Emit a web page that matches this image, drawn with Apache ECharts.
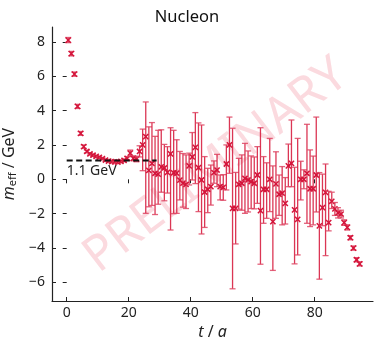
<!DOCTYPE html>
<html><head><meta charset="utf-8">
<script src="https://cdn.jsdelivr.net/npm/echarts@6/dist/echarts.min.js"></script>
<style>html,body{margin:0;padding:0;background:#fff}#c{width:374px;height:340px}</style>
</head><body><div id="c"></div>
<script>
// time slices t/a
const tValues = [0.5,1.5,2.5,3.5,4.5,5.5,6.5,7.5,8.5,9.5,10.5,11.5,12.5,13.5,14.5,15.5,16.5,17.5,18.5,19.5,
  20.5,21.5,22.5,23.5,24.5,25.5,26.5,27.5,28.5,29.5,30.5,31.5,32.5,33.5,34.5,35.5,36.5,37.5,38.5,39.5,
  40.5,41.5,42.5,43.5,44.5,45.5,46.5,47.5,48.5,49.5,50.5,51.5,52.5,53.5,54.5,55.5,56.5,57.5,58.5,59.5,
  60.5,61.5,62.5,63.5,64.5,65.5,66.5,67.5,68.5,69.5,70.5,71.5,72.5,73.5,74.5,75.5,76.5,77.5,78.5,79.5,
  80.5,81.5,82.5,83.5,84.5,85.5,86.5,87.5,88.5,89.5,90.5,91.5,92.5,93.5,94.5];
// effective mass central values (GeV)
const mEff = [8.10,7.31,6.12,4.24,2.67,1.90,1.62,1.48,1.40,1.33,1.28,1.20,1.12,1.06,1.03,1.01,1.00,1.04,1.10,1.22,
  1.52,1.22,1.18,1.62,2.00,2.48,0.52,0.92,0.35,0.30,0.72,0.66,0.40,1.48,0.38,0.36,-0.05,-0.22,-0.30,0.78,
  1.30,1.86,0.68,-0.04,-0.74,-0.58,-0.43,0.39,0.54,-0.43,-0.47,0.89,2.00,-1.69,-1.69,-0.29,-0.23,0.06,-0.04,-0.14,
  -0.23,0.25,-1.82,-0.58,-0.58,0.00,-2.46,-0.27,-0.87,-0.81,-1.40,0.78,0.93,-1.78,-2.33,0.00,0.00,0.35,-0.55,-0.55,
  0.25,-2.71,-1.65,-0.76,-2.52,-1.28,-1.72,-1.95,-2.02,-2.52,-2.80,-3.40,-4.00,-4.68,-4.92];
// lower end of error bars
const errLow = [7.95,7.18,6.00,4.12,2.56,1.80,1.54,1.41,1.33,1.27,1.22,1.14,1.06,1.00,0.97,0.95,0.94,0.97,1.02,1.12,
  1.32,1.08,1.02,1.30,0.50,-1.98,-1.60,-1.52,-2.05,-1.45,-0.75,-1.25,-0.80,-2.95,-2.00,-1.98,-1.20,-1.62,-1.70,-0.33,
  -0.04,-0.25,-1.88,-3.18,-2.80,-1.94,-1.50,-0.23,-0.43,-1.20,-1.22,-0.62,0.35,-6.37,-3.76,-1.74,-1.80,-1.98,-1.90,-1.70,
  -1.72,-1.40,-4.94,-2.56,-2.27,-1.88,-5.30,-2.27,-2.10,-2.65,-2.60,-0.43,-0.43,-4.92,-4.40,-1.20,-0.55,-2.56,-2.75,-2.65,
  -1.90,-5.81,-2.70,-4.44,-3.00,-1.70,-2.10,-2.25,-2.25,-2.68,-2.95,-3.52,-4.12,-4.80,-5.04];
// upper end of error bars
const errHigh = [8.25,7.44,6.24,4.36,2.78,2.00,1.70,1.55,1.47,1.39,1.34,1.26,1.18,1.12,1.09,1.07,1.06,1.11,1.18,1.32,
  1.70,1.36,1.34,1.95,2.92,4.50,3.05,3.30,2.50,2.85,2.88,2.03,1.90,3.00,2.85,2.30,1.62,1.50,1.42,1.52,
  2.72,3.88,3.28,3.16,1.32,0.64,0.83,1.07,1.45,0.25,0.27,2.00,3.62,2.97,0.40,1.22,1.42,2.09,1.65,1.36,
  1.30,1.90,3.00,1.32,0.96,2.38,0.78,1.60,0.25,0.74,0.10,2.05,3.45,0.70,2.38,1.05,0.55,3.20,1.71,1.35,
  3.62,0.39,0.30,0.89,-0.70,-0.75,-1.35,-1.65,-1.80,-2.36,-2.65,-3.28,-3.88,-4.56,-4.80];
const xTicks = [0, 20, 40, 60, 80];
const yTicks = [-6, -4, -2, 0, 2, 4, 6, 8];
const plateauValue = 1.1;
const plateauRange = [0, 29];
const plateauLabel = '1.1 GeV';

const FONT = 'Noto Sans';
const RED = '#d4143a';
const BAR = 'rgba(214,26,60,0.88)';
const CAP = 'rgba(222,70,100,0.85)';
const fmtMinus = v => (v < 0 ? '\u2212' + Math.abs(v) : String(v));

const chart = echarts.init(document.getElementById('c'), null, {renderer: 'canvas'});
const data = tValues.map((t, i) => [t, mEff[i], errLow[i], errHigh[i]]);

const axisCommon = {
  type: 'value',
  splitLine: {show: false},
  axisLine: {show: true, onZero: false, lineStyle: {color: '#222', width: 1.2}},
  axisTick: {show: true, inside: true, length: 4, lineStyle: {color: '#222', width: 1}},
};

chart.setOption({
  animation: false,
  backgroundColor: '#fff',
  title: {text: 'Nucleon', left: 'center', top: 4,
    textStyle: {fontFamily: FONT, fontSize: 16.5, fontWeight: 'normal', color: '#111'}},
  grid: {left: 52, right: 1, top: 27, bottom: 39, containLabel: false, outerBoundsMode: 'none'},
  graphic: [{
    type: 'text', x: 216, y: 166, rotation: 37.5 * Math.PI / 180, z: -10, silent: true,
    style: {text: 'PRELIMINARY', fill: '#fbdadf', font: 'normal 49px "' + FONT + '"',
      align: 'center', verticalAlign: 'middle'}
  }],
  xAxis: [
    Object.assign({}, axisCommon, {
      min: -4.74, max: 98.8, position: 'bottom',
      axisTick: Object.assign({}, axisCommon.axisTick, {customValues: xTicks}),
      axisLabel: {customValues: xTicks, margin: 5, fontFamily: FONT, fontSize: 14, color: '#222', formatter: fmtMinus},
      name: '{i|t} / {i|a}', nameLocation: 'middle', nameGap: 22,
      nameTextStyle: {fontFamily: FONT, fontSize: 16, color: '#222',
        rich: {i: {fontFamily: FONT, fontSize: 16, fontStyle: 'italic', color: '#222'}}}
    }),
    Object.assign({}, axisCommon, {
      min: -4.74, max: 98.8, position: 'top',
      axisLine: {show: false},
      axisTick: Object.assign({}, axisCommon.axisTick, {customValues: xTicks}),
      axisLabel: {show: false}
    })
  ],
  yAxis: [
    Object.assign({}, axisCommon, {
      min: -7.08, max: 8.86, position: 'left',
      axisTick: Object.assign({}, axisCommon.axisTick, {customValues: yTicks}),
      axisLabel: {customValues: yTicks, margin: 7, fontFamily: FONT, fontSize: 14, color: '#222', formatter: fmtMinus},
      name: '{i|m}{s|eff} / GeV', nameLocation: 'middle', nameGap: 28,
      nameTextStyle: {fontFamily: FONT, fontSize: 16, color: '#222',
        rich: {
          i: {fontFamily: FONT, fontSize: 16, fontStyle: 'italic', color: '#222'},
          s: {fontFamily: FONT, fontSize: 11, color: '#222', verticalAlign: 'bottom', padding: [6, 0, 0, 0]}
        }}
    }),
    Object.assign({}, axisCommon, {
      min: -7.08, max: 8.86, position: 'right',
      axisLine: {show: false},
      axisTick: Object.assign({}, axisCommon.axisTick, {customValues: yTicks}),
      axisLabel: {show: false}
    })
  ],
  series: [
    {
      type: 'custom', name: 'meff', xAxisIndex: 0, yAxisIndex: 0, z: 3,
      data: data, encode: {x: 0, y: 1},
      renderItem: function (params, api) {
        const t = api.value(0), v = api.value(1), lo = api.value(2), hi = api.value(3);
        const c = api.coord([t, v]), pl = api.coord([t, lo]), ph = api.coord([t, hi]);
        const cw = 3, m = 2.6;
        const bs = {stroke: BAR, lineWidth: 1.3};
        const cs = {stroke: CAP, lineWidth: 1.3};
        const ms = {stroke: RED, lineWidth: 1.5};
        return {type: 'group', children: [
          {type: 'line', shape: {x1: pl[0], y1: pl[1], x2: ph[0], y2: ph[1]}, style: bs},
          {type: 'line', shape: {x1: pl[0] - cw, y1: pl[1], x2: pl[0] + cw, y2: pl[1]}, style: cs},
          {type: 'line', shape: {x1: ph[0] - cw, y1: ph[1], x2: ph[0] + cw, y2: ph[1]}, style: cs},
          {type: 'line', shape: {x1: c[0] - m, y1: c[1] - m, x2: c[0] + m, y2: c[1] + m}, style: ms},
          {type: 'line', shape: {x1: c[0] - m, y1: c[1] + m, x2: c[0] + m, y2: c[1] - m}, style: ms}
        ]};
      }
    },
    {
      type: 'line', name: 'plateau', xAxisIndex: 0, yAxisIndex: 0, z: 5,
      data: plateauRange.map(x => [x, plateauValue]),
      symbol: 'none', lineStyle: {color: '#111', width: 2, type: [6, 3.5]}
    },
    {
      type: 'custom', name: 'plateauLabel', xAxisIndex: 0, yAxisIndex: 0, z: 5,
      data: [[plateauRange[0], plateauValue]],
      renderItem: function (params, api) {
        const p = api.coord([api.value(0), api.value(1)]);
        return {type: 'text', x: p[0], y: p[1] + 4,
          style: {text: plateauLabel, fill: '#222', font: '14px "' + FONT + '"', align: 'left', verticalAlign: 'top'}};
      }
    }
  ]
});
</script></body></html>
